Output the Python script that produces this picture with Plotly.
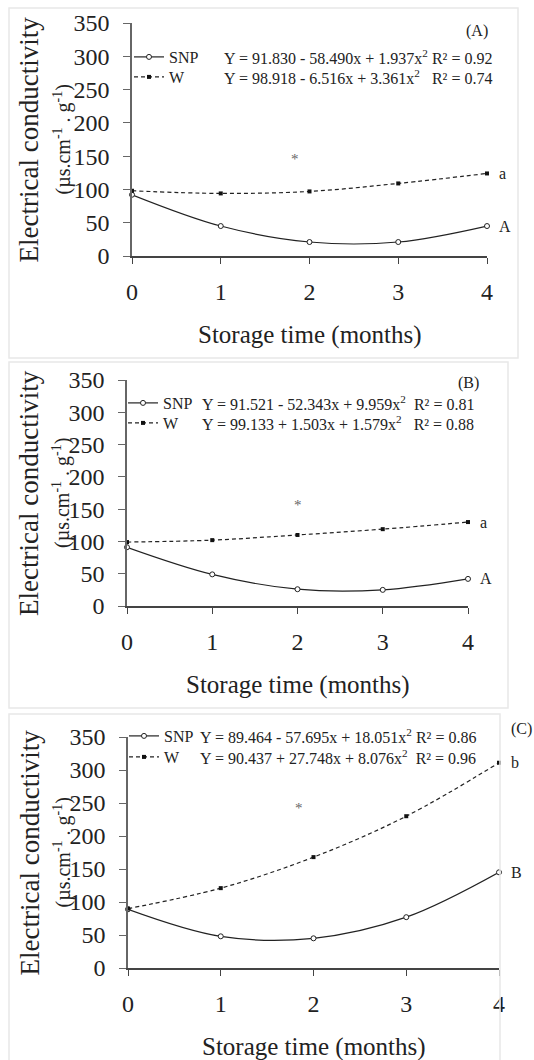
import plotly.graph_objects as go

W_PX, H_PX = 534, 1060
FONT = "Liberation Serif, Times New Roman, serif"

months = [0, 1, 2, 3, 4]
y_ticks = [0, 50, 100, 150, 200, 250, 300, 350]

snp_a = [92, 45, 21, 21, 45]
w_a = [98, 94, 97, 109, 124]
snp_b = [91, 49, 26, 25, 42]
w_b = [99, 102, 110, 119, 130]
snp_c = [89, 48, 45, 77, 145]
w_c = [90, 121, 168, 230, 311]

eq_snp = ["Y = 91.830 - 58.490x + 1.937x<sup>2</sup> R² = 0.92",
          "Y = 91.521 - 52.343x + 9.959x<sup>2</sup>  R² = 0.81",
          "Y = 89.464 - 57.695x + 18.051x<sup>2</sup> R² = 0.86"]
eq_w = ["Y = 98.918 - 6.516x + 3.361x<sup>2</sup>   R² = 0.74",
        "Y = 99.133 + 1.503x + 1.579x<sup>2</sup>   R² = 0.88",
        "Y = 90.437 + 27.748x + 8.076x<sup>2</sup>  R² = 0.96"]
panel_tags = ["(A)", "(B)", "(C)"]
letters_w = ["a", "a", "b"]
letters_snp = ["A", "A", "B"]
star_pos = [(1.84, 145), (2.0, 156), (1.84, 242)]

# panel geometry in pixels: x of month 0, x of month 4, y of value 0, y of value 350
geom = [(132, 487, 256, 23), (127, 468, 606, 380), (128, 499, 968, 737)]
boxes = [(9, 8, 518, 358), (9, 362, 508, 708), (9, 714, 500, 1062)]
legend_rows = [(57, 77), (403, 423), (736, 757)]
legend_x = [129, 123, 124]
eq_x = [222, 200, 198]
tag_pos = [(477, 31), (468, 383), (521, 729)]

px = lambda x: x / W_PX
py = lambda y: 1 - y / H_PX

fig = go.Figure()
series = [(snp_a, w_a), (snp_b, w_b), (snp_c, w_c)]
layout = {}
annotations = []
shapes = []
txt = lambda s, c="#222": dict(family=FONT, size=s, color=c)
for i, (snp, w) in enumerate(series):
    n = "" if i == 0 else str(i + 1)
    xa, ya = "x" + n, "y" + n
    leg1, leg2 = "legend" + str(2 * i + 1), "legend" + str(2 * i + 2)
    if leg1 == "legend1":
        leg1 = "legend"
    fig.add_trace(go.Scatter(
        x=months, y=snp, mode="lines+markers", name="SNP", xaxis=xa, yaxis=ya,
        line=dict(color="#222", width=1.2, shape="spline"),
        marker=dict(symbol="circle", size=5, color="white", line=dict(color="#222", width=1)),
        cliponaxis=False, legend=leg1))
    fig.add_trace(go.Scatter(
        x=months, y=w, mode="lines+markers", name="W", xaxis=xa, yaxis=ya,
        line=dict(color="#222", width=1.2, dash="4px,3px", shape="spline"),
        marker=dict(symbol="square", size=4, color="#111"),
        cliponaxis=False, legend=leg2))
    x0, x4, y0, y350 = geom[i]
    layout["xaxis" + n] = dict(
        domain=[px(x0), px(x4)], range=[0, 4], anchor=ya, tickvals=months,
        showline=True, linecolor="#444", linewidth=1.5, ticks="outside", ticklen=6,
        tickcolor="#444", showgrid=False, zeroline=False, automargin=False,
        tickfont=txt(24), ticklabelstandoff=7)
    layout["yaxis" + n] = dict(
        domain=[py(y0), py(y350)], range=[0, 350], anchor=xa, tickvals=y_ticks,
        showline=True, linecolor="#666", linewidth=1.5, ticks="outside", ticklen=7,
        tickcolor="#666", showgrid=False, zeroline=False, automargin=False,
        tickfont=txt(24), ticklabelstandoff=9)
    for leg, ry in ((leg1, legend_rows[i][0]), (leg2, legend_rows[i][1])):
        layout[leg] = dict(x=px(legend_x[i]), y=py(ry), xanchor="left", yanchor="middle",
                           font=txt(16), bgcolor="rgba(0,0,0,0)", borderwidth=0)
    # equations
    annotations.append(dict(text=eq_snp[i], x=px(eq_x[i]), y=py(legend_rows[i][0]), xref="paper",
                            yref="paper", xanchor="left", yanchor="middle", showarrow=False,
                            font=txt(16)))
    annotations.append(dict(text=eq_w[i], x=px(eq_x[i]), y=py(legend_rows[i][1]), xref="paper",
                            yref="paper", xanchor="left", yanchor="middle", showarrow=False,
                            font=txt(16)))
    annotations.append(dict(text=panel_tags[i], x=px(tag_pos[i][0]), y=py(tag_pos[i][1]),
                            xref="paper", yref="paper", xanchor="center", yanchor="middle",
                            showarrow=False, font=txt(16)))
    annotations.append(dict(text=letters_w[i], x=4, y=w[-1], xref=xa, yref=ya, xanchor="left",
                            showarrow=False, xshift=10, font=txt(16)))
    annotations.append(dict(text=letters_snp[i], x=4, y=snp[-1], xref=xa, yref=ya, xanchor="left",
                            showarrow=False, xshift=10, font=txt(16)))
    annotations.append(dict(text="*", x=star_pos[i][0], y=star_pos[i][1], xref=xa, yref=ya,
                            showarrow=False, font=txt(15, "#666")))
    # axis titles
    annotations.append(dict(text="Storage time (months)", x=px((x0 + x4) / 2), y=py(y0 + 79),
                            xref="paper", yref="paper", xanchor="center", yanchor="middle",
                            showarrow=False, font=txt(25)))
    annotations.append(dict(text="Electrical conductivity", x=px(29), y=py((y0 + y350) / 2),
                            xref="paper", yref="paper", xanchor="center", yanchor="middle",
                            textangle=-90, showarrow=False, font=txt(27)))
    annotations.append(dict(text="(µs.cm<sup>-1</sup> . g<sup>-1</sup>)", x=px(62),
                            y=py((y0 + y350) / 2), xref="paper", yref="paper", xanchor="center",
                            yanchor="middle", textangle=-90, showarrow=False, font=txt(20)))
    bx0, by0, bx1, by1 = boxes[i]
    shapes.append(dict(type="rect", xref="paper", yref="paper", x0=px(bx0), x1=px(bx1),
                       y0=py(by1), y1=py(by0), line=dict(color="#e8e8e8", width=1.5)))

fig.update_layout(width=W_PX, height=H_PX, margin=dict(l=0, r=0, t=0, b=0, pad=0, autoexpand=False),
                  paper_bgcolor="white", plot_bgcolor="white", showlegend=True,
                  annotations=annotations, shapes=shapes, **layout)
fig.write_html(
    "out.html",
    config={"displayModeBar": False},
    post_script=("document.body.style.margin='0';document.body.style.overflow='hidden';"
                 "document.documentElement.style.overflow='hidden';"),
)
